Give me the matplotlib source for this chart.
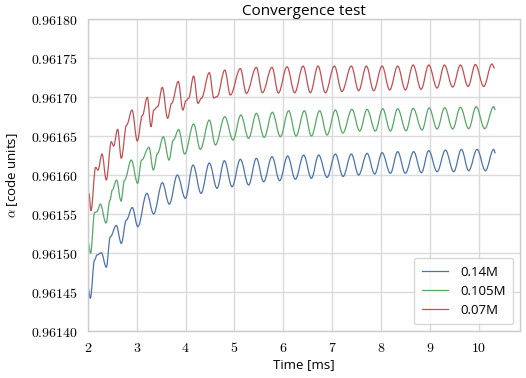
import matplotlib
matplotlib.use("Agg")
import matplotlib.pyplot as plt
from matplotlib.path import Path
from matplotlib.patches import PathPatch
from matplotlib.lines import Line2D
from matplotlib.ticker import FuncFormatter, MultipleLocator

# -----------------------------
# Daten (Extrema der Zeitreihen)
# -----------------------------
t_014 = [2.000, 2.047, 2.135, 2.184, 2.273, 2.375, 2.457, 2.580, 2.682, 2.785,
         2.908, 3.020, 3.205, 3.344, 3.523, 3.666, 3.830, 3.994, 4.152, 4.316,
         4.486, 4.643, 4.793, 4.951, 5.121, 5.291, 5.449, 5.598, 5.770, 5.926,
         6.090, 6.248, 6.418, 6.576, 6.725, 6.898, 7.068, 7.225, 7.395, 7.545,
         7.717, 7.873, 8.025, 8.195, 8.344, 8.502, 8.672, 8.830, 8.980, 9.152,
         9.322, 9.492, 9.650, 9.799, 9.971, 10.141, 10.311, 10.346]
a_014 = [0.9614568, 0.9614419, 0.9614910, 0.9614974, 0.9615004, 0.9614817,
         0.9615209, 0.9615353, 0.9615124, 0.9615423, 0.9615583, 0.9615337,
         0.9615765, 0.9615500, 0.9615901, 0.9615626, 0.9616000, 0.9615701,
         0.9616128, 0.9615765, 0.9616154, 0.9615829, 0.9616183, 0.9615850,
         0.9616201, 0.9615872, 0.9616214, 0.9615914, 0.9616235, 0.9615927,
         0.9616244, 0.9615945, 0.9616256, 0.9615958, 0.9616256, 0.9615970,
         0.9616269, 0.9615981, 0.9616269, 0.9616000, 0.9616278, 0.9616013,
         0.9616286, 0.9616022, 0.9616299, 0.9616022, 0.9616299, 0.9616029,
         0.9616312, 0.9616042, 0.9616320, 0.9616042, 0.9616329, 0.9616055,
         0.9616329, 0.9616055, 0.9616329, 0.9616278]

t_0105 = [2.000, 2.053, 2.135, 2.184, 2.252, 2.369, 2.451, 2.498, 2.586, 2.676,
          2.750, 2.887, 3.016, 3.098, 3.250, 3.338, 3.426, 3.543, 3.660, 3.748,
          3.857, 3.980, 4.164, 4.301, 4.486, 4.609, 4.803, 4.971, 5.131, 5.291,
          5.449, 5.609, 5.777, 5.941, 6.111, 6.262, 6.432, 6.576, 6.746, 6.898,
          7.068, 7.221, 7.406, 7.566, 7.717, 7.887, 8.037, 8.195, 8.344, 8.516,
          8.660, 8.844, 8.988, 9.152, 9.307, 9.471, 9.629, 9.799, 9.951, 10.127,
          10.311, 10.346]
a_0105 = [0.9615145, 0.9614996, 0.9615519, 0.9615529, 0.9615628, 0.9615385,
          0.9615679, 0.9615808, 0.9615936, 0.9615667, 0.9615936, 0.9616192,
          0.9615894, 0.9616192, 0.9616355, 0.9616064, 0.9616278, 0.9616491,
          0.9616192, 0.9616449, 0.9616583, 0.9616269, 0.9616654, 0.9616329,
          0.9616705, 0.9616385, 0.9616747, 0.9616449, 0.9616769, 0.9616470,
          0.9616791, 0.9616483, 0.9616805, 0.9616491, 0.9616824, 0.9616500,
          0.9616824, 0.9616500, 0.9616824, 0.9616513, 0.9616833, 0.9616538,
          0.9616842, 0.9616564, 0.9616842, 0.9616564, 0.9616850, 0.9616564,
          0.9616850, 0.9616568, 0.9616855, 0.9616577, 0.9616859, 0.9616590,
          0.9616863, 0.9616590, 0.9616868, 0.9616594, 0.9616876, 0.9616594,
          0.9616876, 0.9616833]

t_007 = [2.020, 2.061, 2.156, 2.205, 2.287, 2.375, 2.478, 2.525, 2.607, 2.682,
         2.791, 2.902, 3.010, 3.113, 3.215, 3.291, 3.348, 3.426, 3.522, 3.631,
         3.713, 3.850, 3.943, 4.008, 4.061, 4.164, 4.254, 4.322, 4.486, 4.578,
         4.643, 4.803, 4.916, 5.121, 5.244, 5.449, 5.572, 5.770, 5.900, 6.078,
         6.234, 6.406, 6.555, 6.713, 6.863, 7.047, 7.201, 7.395, 7.545, 7.703,
         7.852, 8.025, 8.180, 8.344, 8.502, 8.660, 8.824, 8.980, 9.152, 9.301,
         9.471, 9.629, 9.787, 9.936, 10.107, 10.275, 10.332]
a_007 = [0.9615765, 0.9615542, 0.9616099, 0.9616064, 0.9616269, 0.9615936,
         0.9616427, 0.9616372, 0.9616586, 0.9616214, 0.9616641, 0.9616833,
         0.9616436, 0.9616763, 0.9616996, 0.9616619, 0.9616833, 0.9616876,
         0.9617124, 0.9616727, 0.9616919, 0.9617199, 0.9616833, 0.9616953,
         0.9616983, 0.9617269, 0.9616919, 0.9616983, 0.9617312, 0.9616987,
         0.9617004, 0.9617346, 0.9617026, 0.9617365, 0.9617047, 0.9617381,
         0.9617055, 0.9617381, 0.9617051, 0.9617388, 0.9617055, 0.9617397,
         0.9617055, 0.9617397, 0.9617055, 0.9617397, 0.9617071, 0.9617397,
         0.9617081, 0.9617397, 0.9617081, 0.9617397, 0.9617090, 0.9617397,
         0.9617090, 0.9617410, 0.9617099, 0.9617410, 0.9617115, 0.9617410,
         0.9617128, 0.9617410, 0.9617135, 0.9617417, 0.9617135, 0.9617423,
         0.9617368]

labels = ["0.14M", "0.105M", "0.07M"]
colors = ["#4C72B0", "#55A868", "#C44E52"]
series = [(t_014, a_014), (t_0105, a_0105), (t_007, a_007)]


def smooth_path(t, a, k=0.36):
    # glatte Kurve durch die Extrema: kubische Bezier-Segmente mit
    # waagrechter Tangente in jedem Stuetzpunkt
    verts = [(t[0], a[0])]
    codes = [Path.MOVETO]
    for i in range(1, len(t)):
        dx = t[i] - t[i - 1]
        verts += [(t[i - 1] + k * dx, a[i - 1]),
                  (t[i] - k * dx, a[i]),
                  (t[i], a[i])]
        codes += [Path.CURVE4] * 3
    return Path(verts, codes)


# -----------------------------
# Stil
# -----------------------------
plt.rcParams["font.family"] = ["Open Sans", "DejaVu Sans"]
plt.rcParams["mathtext.fontset"] = "cm"
plt.rcParams["axes.edgecolor"] = "#cccccc"
plt.rcParams["grid.color"] = "#dadada"

fig = plt.figure(figsize=(5.26, 3.78), dpi=100)
ax = fig.add_axes([0.1673, 0.1243, 0.8213, 0.8254])

handles = []
for (t, a), color, label in zip(series, colors, labels):
    ax.add_patch(PathPatch(smooth_path(t, a), facecolor="none",
                           edgecolor=color, lw=0.9))
    handles.append(Line2D([], [], color=color, lw=0.9, label=label))

ax.set_xlim(2, 10.85)
ax.set_ylim(0.96140, 0.96180)
ax.xaxis.set_major_locator(MultipleLocator(1))
ax.yaxis.set_major_locator(MultipleLocator(0.00005))
ax.xaxis.set_major_formatter(FuncFormatter(lambda v, p: r"$%d$" % round(v)))
ax.yaxis.set_major_formatter(FuncFormatter(lambda v, p: r"$%.5f$" % v))
ax.tick_params(length=0, labelsize=10, pad=7)
ax.grid(True, lw=1.0)
ax.set_axisbelow(True)
for s in ax.spines.values():
    s.set_linewidth(1.0)

ax.set_title("Convergence test", fontsize=11, pad=3)
ax.set_xlabel("Time [ms]", fontsize=9.5, labelpad=2)
ax.set_ylabel(r"$\alpha$ [code units]", fontsize=9.5, labelpad=8)

leg = ax.legend(handles=handles, loc="lower right", fontsize=9.5,
                frameon=True, fancybox=True, handlelength=2.0,
                handletextpad=0.9, borderpad=0.6, labelspacing=0.45)
leg.get_frame().set_edgecolor("#cccccc")
leg.get_frame().set_facecolor("white")

fig.savefig("out.png", dpi=100)
